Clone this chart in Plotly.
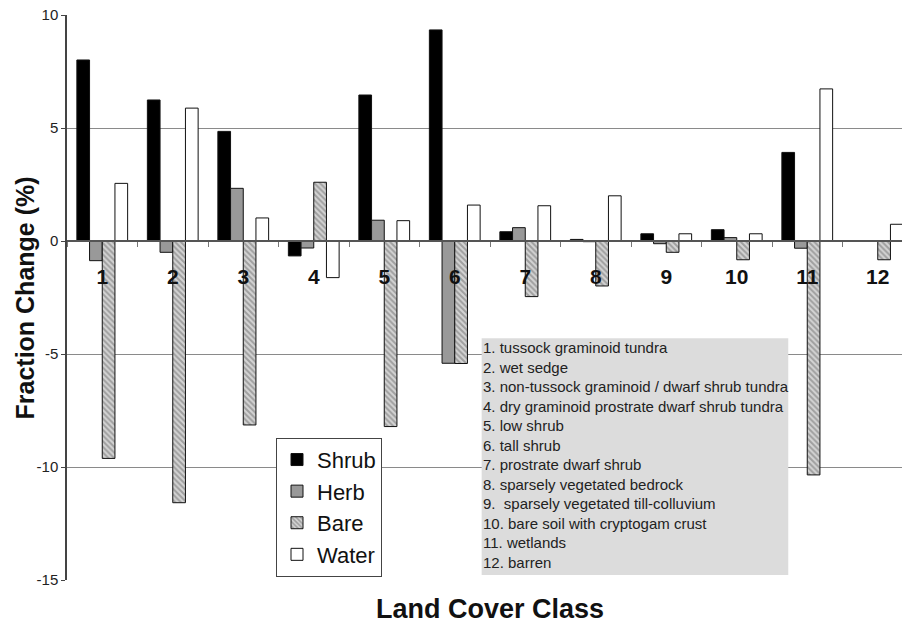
import plotly.graph_objects as go

# Land cover classes (x categories)
classes = [str(i) for i in range(1, 13)]

# Fraction change (%) per class for each cover component
shrub = [8.01, 6.24, 4.85, -0.66, 6.46, 9.34, 0.41, 0.07, 0.32, 0.50, 3.92, 0.02]
herb = [-0.87, -0.50, 2.33, -0.31, 0.92, -5.41, 0.59, -0.03, -0.12, 0.15, -0.32, -0.02]
bare = [-9.62, -11.58, -8.14, 2.60, -8.21, -5.42, -2.46, -1.99, -0.50, -0.83, -10.35, -0.83]
water = [2.55, 5.88, 1.02, -1.62, 0.90, 1.59, 1.56, 2.00, 0.32, 0.32, 6.73, 0.74]

# y tick values / labels (plain hyphen minus)
y_ticks = [-15, -10, -5, 0, 5, 10]
y_tick_text = ["-15", "-10", "-5", "0", "5", "10"]

class_names = [
    "1. tussock graminoid tundra",
    "2. wet sedge",
    "3. non-tussock graminoid / dwarf shrub tundra",
    "4. dry graminoid prostrate dwarf shrub tundra",
    "5. low shrub",
    "6. tall shrub",
    "7. prostrate dwarf shrub",
    "8. sparsely vegetated bedrock",
    "9.\u00a0 sparsely vegetated till-colluvium",
    "10. bare soil with cryptogam crust",
    "11. wetlands",
    "12. barren",
]

FONT = "Arial, 'Liberation Sans', sans-serif"
OUTLINE = dict(color="#111111", width=1)

fig = go.Figure()
fig.add_trace(go.Bar(name="Shrub", x=classes, y=shrub,
                     marker=dict(color="#000000", line=OUTLINE)))
fig.add_trace(go.Bar(name="Herb", x=classes, y=herb,
                     marker=dict(color="#999999", line=OUTLINE)))
fig.add_trace(go.Bar(name="Bare", x=classes, y=bare,
                     marker=dict(color="#d4d4d4", line=OUTLINE,
                                 pattern=dict(shape="\\", size=4, solidity=0.5,
                                              fgcolor="#6a6a6a", bgcolor="#d4d4d4",
                                              fillmode="overlay"))))
fig.add_trace(go.Bar(name="Water", x=classes, y=water,
                     marker=dict(color="#ffffff", line=OUTLINE)))

fig.update_layout(
    width=902, height=624,
    margin=dict(l=67, r=0, t=15, b=44),
    paper_bgcolor="white", plot_bgcolor="white",
    barmode="group", bargap=0.28, bargroupgap=0,
    font=dict(family=FONT, color="#111111"),
    showlegend=True,
    legend=dict(x=0.2503, y=0.2518, xanchor="left", yanchor="top",
                bgcolor="white", bordercolor="#444444", borderwidth=1,
                font=dict(size=22, family=FONT, color="#111111"),
                itemwidth=30, tracegroupgap=0),
)

# Category axis drawn along the zero line, labels hanging below it
fig.update_xaxes(
    type="category", range=[-0.5, 11.344],
    anchor="free", position=0.6,
    showline=True, linecolor="#555555", linewidth=1.5,
    ticks="outside", tickson="boundaries", ticklen=5, tickcolor="#777777",
    tickfont=dict(size=21, family=FONT, color="#111111", weight="bold"),
    ticklabelstandoff=17,
    showgrid=False, layer="above traces",
)
fig.update_yaxes(
    range=[-15, 10], tickvals=y_ticks, ticktext=y_tick_text,
    showline=True, linecolor="#444444", linewidth=1.5,
    ticks="outside", ticklen=4, tickcolor="#444444",
    tickfont=dict(size=15, family=FONT, color="#222222"),
    showgrid=True, gridcolor="#8a8a8a", gridwidth=1.4,
    zeroline=False,
)

# Key for the numbered classes
fig.add_shape(type="rect", xref="paper", yref="paper",
              x0=0.4966, x1=0.8638, y0=0.00885, y1=0.4278,
              fillcolor="#dcdcdc", line=dict(width=0), layer="above")
fig.add_annotation(xref="paper", yref="paper", x=0.4966, y=0.4283,
                   xanchor="left", yanchor="top", align="left",
                   showarrow=False, borderpad=0,
                   text="<br>".join(class_names),
                   font=dict(size=15, family=FONT, color="#222222"))

# Axis titles
fig.add_annotation(xref="paper", yref="paper", x=-0.0503, y=0.5,
                   xanchor="center", yanchor="middle", textangle=-90,
                   showarrow=False, text="<b>Fraction Change (%)</b>",
                   font=dict(size=25, family=FONT, color="#111111"))
fig.add_annotation(xref="paper", yref="paper", x=0.5066, y=-0.0513,
                   xanchor="center", yanchor="middle",
                   showarrow=False, text="<b>Land Cover Class</b>",
                   font=dict(size=27, family=FONT, color="#111111"))

fig.write_html("out.html")
